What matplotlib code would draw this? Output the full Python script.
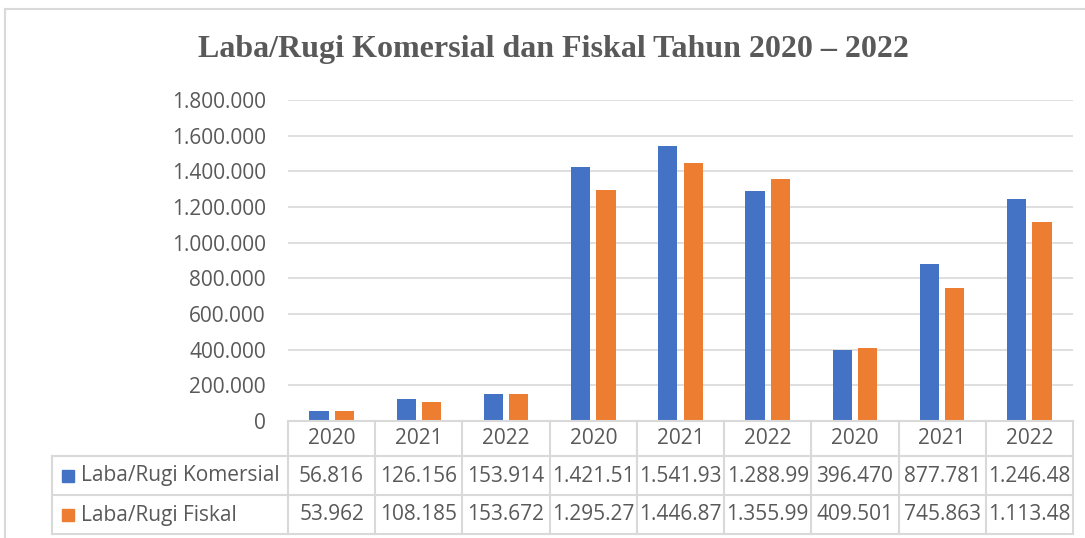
import matplotlib.pyplot as plt
import matplotlib.transforms as mtransforms
from matplotlib.patches import Rectangle
import numpy as np

years = ["2020", "2021", "2022", "2020", "2021", "2022", "2020", "2021", "2022"]
komersial = [56816, 126156, 153914, 1421510, 1541930, 1288990, 396470, 877781, 1246480]
fiskal = [53962, 108185, 153672, 1295270, 1446870, 1355990, 409501, 745863, 1113480]
komersial_labels = ["56.816", "126.156", "153.914", "1.421.51", "1.541.93", "1.288.99",
                    "396.470", "877.781", "1.246.48"]
fiskal_labels = ["53.962", "108.185", "153.672", "1.295.27", "1.446.87", "1.355.99",
                 "409.501", "745.863", "1.113.48"]
series_names = ["Laba/Rugi Komersial", "Laba/Rugi Fiskal"]
y_ticks = [0, 200000, 400000, 600000, 800000, 1000000, 1200000, 1400000, 1600000, 1800000]

BLUE = "#4472C4"
ORANGE = "#ED7D31"
GRID = "#D9D9D9"
TEXT = "#595959"
FONT = "Open Sans"
FS = 15

W, H = 1085, 538
fig = plt.figure(figsize=(W / 100, H / 100), dpi=100)


def fx(px):
    return px / W


def fy(py):
    return 1 - py / H


ax_left, ax_right, ax_top, ax_bottom = 288, 1073, 100, 421
ax = fig.add_axes([fx(ax_left), fy(ax_bottom), fx(ax_right - ax_left), fy(ax_top) - fy(ax_bottom)])

x = np.arange(len(years))
ax.bar(x - 0.145, komersial, 0.22, color=BLUE, zorder=3)
ax.bar(x + 0.145, fiskal, 0.22, color=ORANGE, zorder=3)

ax.set_xlim(-0.5, len(years) - 0.5)
ax.set_ylim(0, 1800000)
ax.set_yticks(y_ticks)
ax.set_yticklabels([f"{v:,}".replace(",", ".") for v in y_ticks], fontsize=FS,
                   color=TEXT, family=FONT)
ax.tick_params(axis="y", length=0, pad=16)
ax.set_xticks([])
for s in ax.spines.values():
    s.set_visible(False)
for v in y_ticks[1:]:
    ax.axhline(v, color=GRID, lw=1.2, zorder=1)

# title
fig.text(fx(553), fy(50), "Laba/Rugi Komersial dan Fiskal Tahun 2020 \u2013 2022",
         ha="center", va="center", fontsize=23, fontweight="bold",
         family="Liberation Serif", color=TEXT)

# data table
blend = mtransforms.blended_transform_factory(ax.transData, fig.transFigure)
rows_y = [421, 456, 495, 534]
leg_left = 52

# horizontal lines
fig.add_artist(plt.Line2D([fx(ax_left), fx(ax_right)], [fy(421), fy(421)], color=GRID, lw=1.5))
for yy in rows_y[1:]:
    fig.add_artist(plt.Line2D([fx(leg_left), fx(ax_right)], [fy(yy), fy(yy)], color=GRID, lw=1.5))
# vertical lines
fig.add_artist(plt.Line2D([fx(leg_left), fx(leg_left)], [fy(456), fy(534)], color=GRID, lw=1.5))
for i in range(len(years) + 1):
    fig.add_artist(plt.Line2D([i - 0.5, i - 0.5], [fy(421), fy(534)], color=GRID, lw=1.5,
                              transform=blend))

for i, yr in enumerate(years):
    fig.text(i, fy(438), yr, transform=blend, ha="center", va="center",
             fontsize=FS, color=TEXT, family=FONT)
    fig.text(i, fy(476), komersial_labels[i], transform=blend, ha="center", va="center",
             fontsize=FS, color=TEXT, family=FONT)
    fig.text(i, fy(515), fiskal_labels[i], transform=blend, ha="center", va="center",
             fontsize=FS, color=TEXT, family=FONT)

for name, color, yc in zip(series_names, [BLUE, ORANGE], [476, 515]):
    fig.add_artist(Rectangle((fx(62), fy(yc + 6)), fx(12), fy(yc - 6) - fy(yc + 6),
                             color=color, transform=fig.transFigure))
    fig.text(fx(81), fy(yc), name, ha="left", va="center", fontsize=FS,
             color=TEXT, family=FONT)

# chart border
fig.add_artist(plt.Line2D([fx(5), fx(1090)], [fy(9), fy(9)], color=GRID, lw=1.5))
fig.add_artist(plt.Line2D([fx(5), fx(5)], [fy(9), fy(545)], color=GRID, lw=1.5))

fig.savefig("out.png", dpi=100)
